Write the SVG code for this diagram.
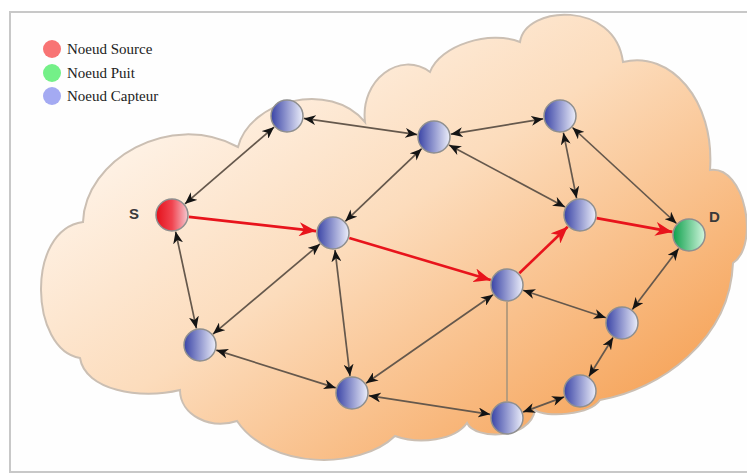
<svg xmlns="http://www.w3.org/2000/svg" width="747" height="473" viewBox="0 0 747 473">
  <style>
    .frame { fill: #fefefe; stroke: #c8c8c8; stroke-width: 2; }
    .cloud { fill: url(#cloudFill); stroke: #cbbfb3; stroke-width: 2; }
    .link { stroke: #65584c; stroke-width: 1.7; fill: none; marker-start: url(#ah); marker-end: url(#ah); }
    .plain { stroke: #b89c7c; stroke-width: 2; fill: none; }
    .route { stroke: #e8141c; stroke-width: 2.6; fill: none; marker-end: url(#ahr); }
    .node { stroke: #8f8f8f; stroke-width: 1.5; }
    .sensor { fill: url(#blueFill); }
    .source { fill: url(#redFill); }
    .sink { fill: url(#greenFill); }
    .tag { font-family: "Liberation Sans", Arial, sans-serif; font-weight: bold; font-size: 15px; fill: #3a3a3a; }
  </style>
  <defs>
    <linearGradient id="cloudFill" x1="0.05" y1="0.15" x2="0.92" y2="0.95">
      <stop offset="0" stop-color="#fffaf5"/>
      <stop offset="0.45" stop-color="#fcdcbc"/>
      <stop offset="1" stop-color="#f59c4c"/>
    </linearGradient>
    <linearGradient id="blueFill" x1="0" y1="0" x2="1" y2="0">
      <stop offset="0" stop-color="#3a44a6"/>
      <stop offset="1" stop-color="#eceefa"/>
    </linearGradient>
    <linearGradient id="redFill" x1="0" y1="0" x2="1" y2="0">
      <stop offset="0" stop-color="#e4101a"/>
      <stop offset="0.5" stop-color="#f04450"/>
      <stop offset="1" stop-color="#f4c8d0"/>
    </linearGradient>
    <linearGradient id="greenFill" x1="0" y1="0" x2="1" y2="0">
      <stop offset="0" stop-color="#0ea04c"/>
      <stop offset="1" stop-color="#d2f6de"/>
    </linearGradient>
    <marker id="ah" markerUnits="userSpaceOnUse" markerWidth="13" markerHeight="10" refX="12" refY="5" orient="auto-start-reverse" viewBox="0 0 13 10">
      <path d="M0,0 L12,5 L0,10 L3.5,5 z" fill="#141414"/>
    </marker>
    <marker id="ahr" markerUnits="userSpaceOnUse" markerWidth="18" markerHeight="14" refX="17" refY="7" orient="auto" viewBox="0 0 18 14">
      <path d="M0,0 L17,7 L0,14 L5,7 z" fill="#e8141c"/>
    </marker>
  </defs>

  <!-- frame -->
  <rect class="frame" x="10" y="12" width="760" height="460"/>

  <!-- network area -->
  <path class="cloud" d="M83,222
    C85,160 170,110 238,147
    C250,100 330,80 365,122
    C360,80 400,50 430,72
    C440,45 490,30 520,42
    C525,5 615,0 623,62
    C670,50 715,100 710,170
    C745,165 760,245 733,263
    C730,340 660,390 600,400
    C590,415 545,418 535,410
    C530,440 475,440 467,423
    C455,440 420,445 395,436
    C360,470 270,470 237,421
    C210,430 180,415 180,390
    C140,400 85,390 80,358
    C30,350 25,230 83,222 Z"/>

  <!-- legend -->
  <g id="legend" font-family="'Liberation Serif', 'DejaVu Serif', 'Times New Roman', serif" font-size="15" fill="#222">
    <circle cx="52" cy="49" r="9" fill="#f87474"/>
    <circle cx="52" cy="73" r="9" fill="#74f088"/>
    <circle cx="52" cy="96" r="9" fill="#a4aaf2"/>
    <text x="67" y="54">Noeud Source</text>
    <text x="67" y="78">Noeud Puit</text>
    <text x="67" y="101">Noeud Capteur</text>
  </g>

  <!-- links -->
  <g id="connectors">
    <line class="link" x1="184.9" y1="203.9" x2="274.1" y2="127.1"/>
    <line class="link" x1="303.8" y1="118.4" x2="417.2" y2="134.6"/>
    <line class="link" x1="450.8" y1="134.2" x2="543.2" y2="118.8"/>
    <line class="link" x1="421.7" y1="148.7" x2="345.3" y2="221.3"/>
    <line class="link" x1="449" y1="145" x2="565" y2="207"/>
    <line class="link" x1="563.4" y1="132.7" x2="576.6" y2="198.3"/>
    <line class="link" x1="572.5" y1="127.5" x2="676.5" y2="223.5"/>
    <line class="link" x1="175.6" y1="231.6" x2="196.4" y2="328.4"/>
    <line class="link" x1="320" y1="243.9" x2="213" y2="334.1"/>
    <line class="link" x1="335" y1="249.9" x2="350" y2="376.1"/>
    <line class="link" x1="216.2" y1="350.1" x2="335.8" y2="387.9"/>
    <line class="link" x1="493" y1="294.7" x2="366" y2="383.3"/>
    <line class="plain" x1="507" y1="302" x2="507" y2="401"/>
    <line class="link" x1="523.1" y1="290.3" x2="605.9" y2="317.7"/>
    <line class="link" x1="632.3" y1="309.5" x2="678.7" y2="248.5"/>
    <line class="link" x1="613.1" y1="337.5" x2="588.9" y2="376.5"/>
    <line class="link" x1="564.1" y1="396.9" x2="523" y2="412.1"/>
    <line class="link" x1="368.8" y1="395.7" x2="490.2" y2="414.3"/>
    <!-- route from S to D -->
    <line class="route" x1="188.9" y1="216.9" x2="316.1" y2="231.1"/>
    <line class="route" x1="349.3" y1="237.9" x2="490.7" y2="280.1"/>
    <line class="route" x1="519.3" y1="273.2" x2="567.7" y2="226.8"/>
    <line class="route" x1="596.7" y1="218.1" x2="672.3" y2="231.9"/>
  </g>

  <!-- nodes -->
  <g id="node-s"><circle class="node source" cx="172" cy="215" r="16"/><text class="tag" x="129" y="219">S</text></g>
  <g id="node-d"><circle class="node sink" cx="689" cy="235" r="16"/><text class="tag" x="709" y="222">D</text></g>
  <g id="node-1"><circle class="node sensor" cx="287" cy="116" r="16"/></g>
  <g id="node-2"><circle class="node sensor" cx="434" cy="137" r="16"/></g>
  <g id="node-3"><circle class="node sensor" cx="560" cy="116" r="16"/></g>
  <g id="node-4"><circle class="node sensor" cx="333" cy="233" r="16"/></g>
  <g id="node-5"><circle class="node sensor" cx="580" cy="215" r="16"/></g>
  <g id="node-6"><circle class="node sensor" cx="507" cy="285" r="16"/></g>
  <g id="node-7"><circle class="node sensor" cx="200" cy="345" r="16"/></g>
  <g id="node-8"><circle class="node sensor" cx="352" cy="393" r="16"/></g>
  <g id="node-9"><circle class="node sensor" cx="622" cy="323" r="16"/></g>
  <g id="node-10"><circle class="node sensor" cx="580" cy="391" r="16"/></g>
  <g id="node-11"><circle class="node sensor" cx="507" cy="418" r="16"/></g>
</svg>
